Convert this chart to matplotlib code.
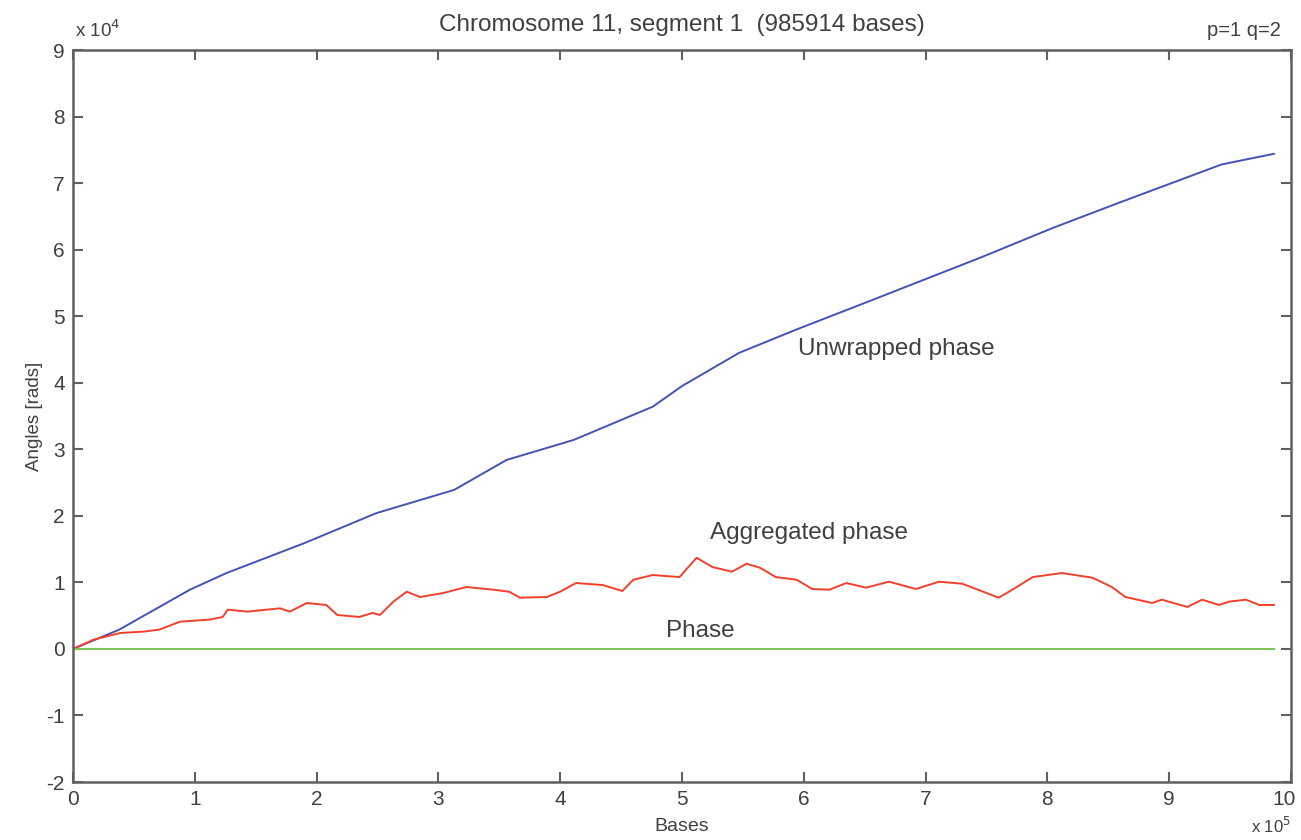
"""
Chromosome 11 phase plot (unwrapped / aggregated / phase vs bases).
"""

import matplotlib
matplotlib.use("Agg")
import matplotlib.pyplot as plt
import matplotlib.transforms as mtransforms

# x in units of 1e5 bases, y in units of 1e4 rads
unwrapped_x = [0, 0.38, 0.96, 1.26, 1.9, 2.49, 3.13, 3.56, 4.11, 4.76, 5.0, 5.47,
               5.94, 6.53, 7.45, 8.05, 8.61, 9.43, 9.86]
unwrapped_y = [0, 0.29, 0.89, 1.14, 1.59, 2.04, 2.39, 2.84, 3.14, 3.64, 3.95, 4.45,
               4.8, 5.22, 5.88, 6.33, 6.72, 7.28, 7.44]

aggregated_x = [0, 0.17, 0.39, 0.58, 0.71, 0.88, 1.12, 1.23, 1.27, 1.43, 1.70, 1.78,
                1.92, 2.08, 2.17, 2.35, 2.46, 2.52, 2.63, 2.74, 2.85, 3.04, 3.23,
                3.45, 3.58, 3.67, 3.89, 4.0, 4.13, 4.35, 4.51, 4.60, 4.76, 4.98,
                5.12, 5.25, 5.41, 5.53, 5.64, 5.77, 5.94, 6.07, 6.21, 6.35, 6.51,
                6.70, 6.92, 7.11, 7.30, 7.60, 7.74, 7.88, 8.12, 8.37, 8.53, 8.64,
                8.86, 8.94, 9.15, 9.27, 9.41, 9.49, 9.63, 9.74, 9.86]
aggregated_y = [0, 0.14, 0.24, 0.26, 0.29, 0.41, 0.44, 0.48, 0.59, 0.56, 0.61, 0.56,
                0.69, 0.66, 0.51, 0.48, 0.54, 0.51, 0.71, 0.86, 0.78, 0.84, 0.93,
                0.89, 0.86, 0.77, 0.78, 0.86, 0.99, 0.96, 0.87, 1.04, 1.11, 1.08,
                1.37, 1.23, 1.16, 1.28, 1.22, 1.08, 1.04, 0.90, 0.89, 0.99, 0.92,
                1.01, 0.90, 1.01, 0.98, 0.77, 0.92, 1.08, 1.14, 1.07, 0.93, 0.78,
                0.69, 0.74, 0.63, 0.74, 0.66, 0.71, 0.74, 0.66, 0.66]

phase_x = [0, 9.86]
phase_y = [0, 0]

title = "Chromosome 11, segment 1  (985914 bases)"
xticks = list(range(0, 11))
yticks = list(range(-2, 10))

plt.rcParams["font.family"] = ["Liberation Sans", "DejaVu Sans"]
plt.rcParams["axes.unicode_minus"] = False
text_color = "#404040"
axis_color = "#606060"

fig = plt.figure(figsize=(13.01, 8.4), dpi=100)
ax = fig.add_axes([73 / 1301, 58 / 840, 1218 / 1301, 732 / 840])

ax.plot(unwrapped_x, unwrapped_y, color="#4353b5", linewidth=1.4)
ax.plot(aggregated_x, aggregated_y, color="#f2402c", linewidth=1.4)
ax.plot(phase_x, phase_y, color="#7cc65c", linewidth=1.5)

ax.set_xlim(0, 10)
ax.set_ylim(-2, 9)
ax.set_xticks(xticks)
ax.set_yticks(yticks)
ax.tick_params(direction="in", length=7, width=1.5, colors=axis_color,
               labelcolor=text_color, labelsize=15, top=True, right=True, pad=6)
for s in ax.spines.values():
    s.set_color(axis_color)
    s.set_linewidth(1.8)

# nudge the last x tick label so it stays inside the figure
last = ax.get_xticklabels()[-1]
last.set_transform(last.get_transform() + mtransforms.ScaledTranslation(-7 / 100, 0, fig.dpi_scale_trans))

ax.set_title(title, fontsize=17.5, color=text_color, pad=14)
ax.set_xlabel("Bases", fontsize=14, color=text_color, labelpad=6)
ax.set_ylabel("Angles [rads]", fontsize=13.5, color=text_color, labelpad=2)

ax.text(0.002, 1.012, "x 10$^4$", transform=ax.transAxes, fontsize=13.5,
        color=text_color, va="bottom")
ax.text(1.0, -0.0735, "x 10$^5$", transform=ax.transAxes, fontsize=12,
        color=text_color, va="bottom", ha="right")
ax.text(0.992, 1.014, "p=1 q=2", transform=ax.transAxes, fontsize=14.5,
        color=text_color, va="bottom", ha="right")

ax.text(5.95, 4.5, "Unwrapped phase", fontsize=17.5, color=text_color, va="center")
ax.text(5.23, 1.74, "Aggregated phase", fontsize=17.5, color=text_color, va="center")
ax.text(4.87, 0.27, "Phase", fontsize=17.5, color=text_color, va="center")

fig.savefig("out.png", dpi=100)
